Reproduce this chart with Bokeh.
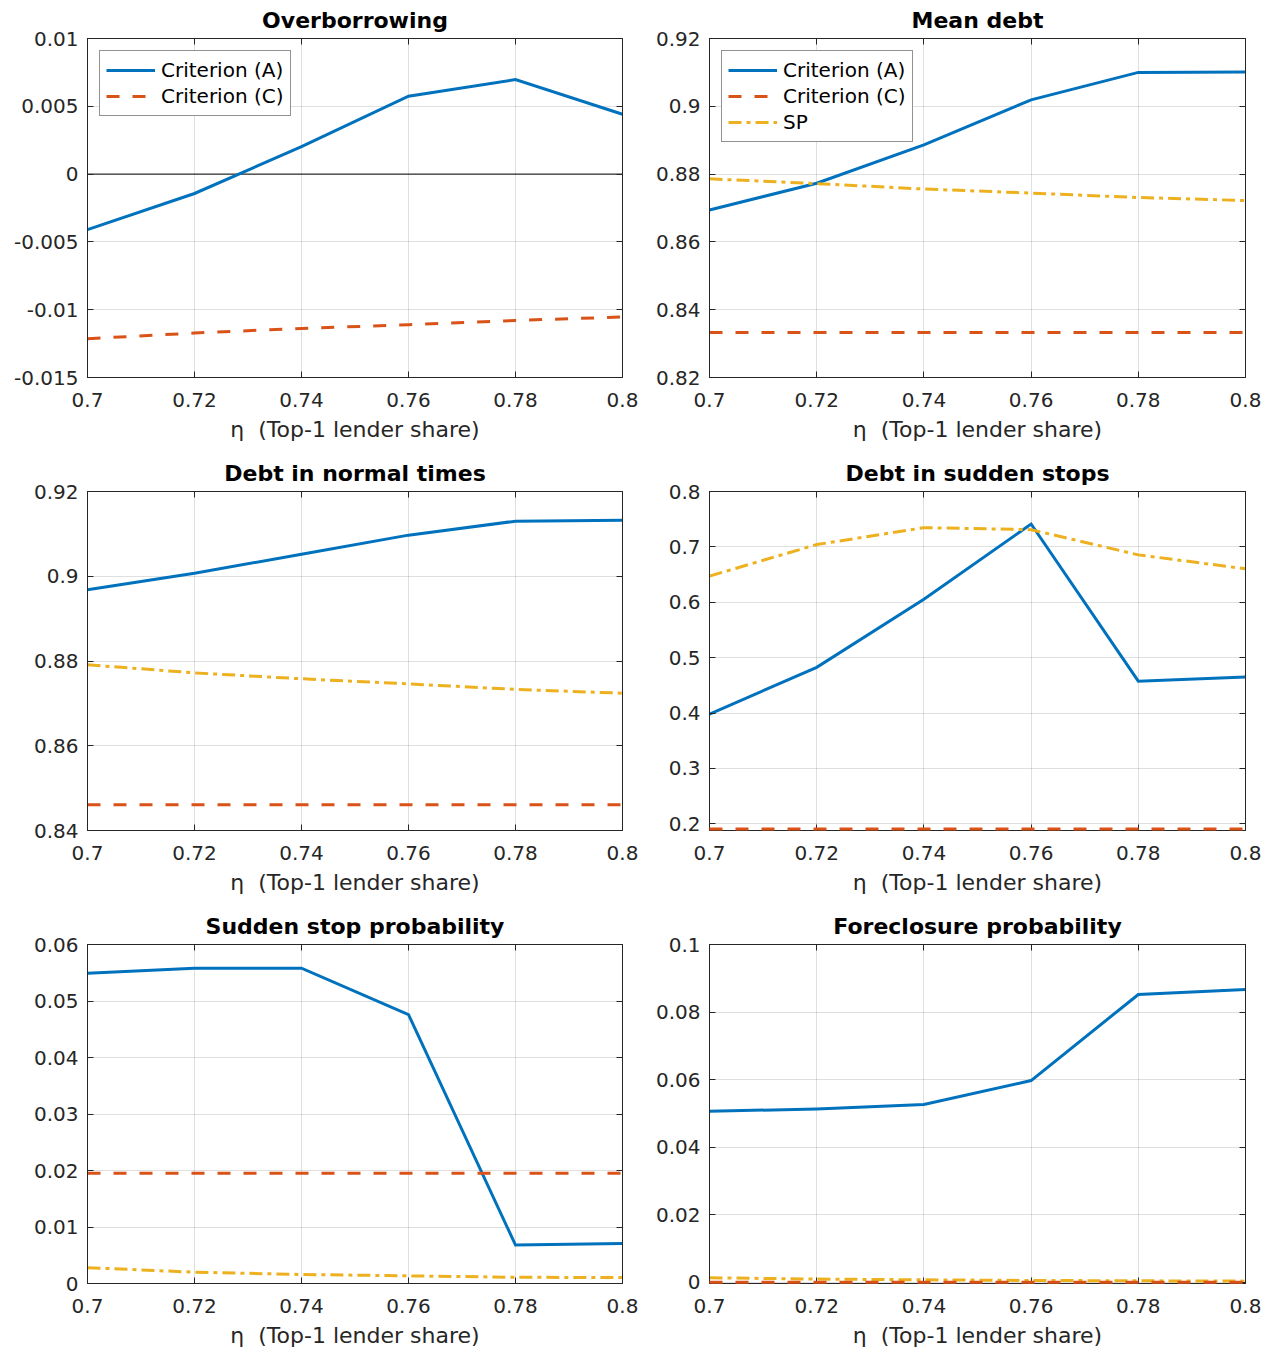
from bokeh.plotting import figure
from bokeh.layouts import column, row
from bokeh.models import FixedTicker, CustomJSTickFormatter, LinearAxis, Span, Range1d
from bokeh.embed import file_html
from bokeh.resources import INLINE

# ---------------- data ----------------
eta = [0.70, 0.72, 0.74, 0.76, 0.78, 0.80]
x_ticks = [0.7, 0.72, 0.74, 0.76, 0.78, 0.8]
x_tick_labels = ["0.7", "0.72", "0.74", "0.76", "0.78", "0.8"]

# Overborrowing
ob_A = [-0.0041, -0.00143, 0.00202, 0.00574, 0.00697, 0.00441]
ob_C = [-0.01214, -0.01172, -0.01138, -0.01111, -0.01079, -0.01054]
ob_ticks = [-0.015, -0.01, -0.005, 0, 0.005, 0.01]
ob_labels = ["-0.015", "-0.01", "-0.005", "0", "0.005", "0.01"]

# Mean debt
md_A = [0.8694, 0.8773, 0.8886, 0.9019, 0.9100, 0.9101]
md_C = [0.8333, 0.8333, 0.8333, 0.8333, 0.8333, 0.8333]
md_SP = [0.8786, 0.8772, 0.8756, 0.8744, 0.8731, 0.8722]
md_ticks = [0.82, 0.84, 0.86, 0.88, 0.9, 0.92]
md_labels = ["0.82", "0.84", "0.86", "0.88", "0.9", "0.92"]

# Debt in normal times
nt_A = [0.8968, 0.9007, 0.9052, 0.9097, 0.9130, 0.9132]
nt_C = [0.8461, 0.8461, 0.8461, 0.8461, 0.8461, 0.8461]
nt_SP = [0.8791, 0.8772, 0.8758, 0.8746, 0.8733, 0.8724]
nt_ticks = [0.84, 0.86, 0.88, 0.9, 0.92]
nt_labels = ["0.84", "0.86", "0.88", "0.9", "0.92"]

# Debt in sudden stops
ss_A = [0.3982, 0.4826, 0.6054, 0.7413, 0.4575, 0.4653]
ss_C = [0.1905, 0.1905, 0.1905, 0.1905, 0.1905, 0.1905]
ss_SP = [0.6473, 0.7042, 0.7347, 0.7311, 0.6856, 0.6605]
ss_ticks = [0.2, 0.3, 0.4, 0.5, 0.6, 0.7, 0.8]
ss_labels = ["0.2", "0.3", "0.4", "0.5", "0.6", "0.7", "0.8"]

# Sudden stop probability
sp_A = [0.0549, 0.0558, 0.0558, 0.0476, 0.0068, 0.0071]
sp_C = [0.0195, 0.0195, 0.0195, 0.0195, 0.0195, 0.0195]
sp_SP = [0.0028, 0.0020, 0.0016, 0.00135, 0.0011, 0.00105]
sp_ticks = [0, 0.01, 0.02, 0.03, 0.04, 0.05, 0.06]
sp_labels = ["0", "0.01", "0.02", "0.03", "0.04", "0.05", "0.06"]

# Foreclosure probability
fp_A = [0.0506, 0.0513, 0.0526, 0.0597, 0.0852, 0.0867]
fp_C = [0.0, 0.0, 0.0, 0.0, 0.0, 0.0]
fp_SP = [0.0013, 0.0009, 0.0007, 0.0005, 0.0004, 0.0003]
fp_ticks = [0, 0.02, 0.04, 0.06, 0.08, 0.1]
fp_labels = ["0", "0.02", "0.04", "0.06", "0.08", "0.1"]

# ---------------- style ----------------
BLUE = "#0072BD"
RED = "#D95319"
YEL = "#EDB120"
AX = "#262626"
FONT = "DejaVu Sans"
XLABEL = "\u03b7\u00a0\u00a0(Top-1 lender share)"


def fmt(ticks, labels):
    return CustomJSTickFormatter(args=dict(vals=ticks, labs=labels), code="""
        let best = 0, d = Infinity;
        for (let i = 0; i < vals.length; i++) {
            const e = Math.abs(vals[i] - tick);
            if (e < d) { d = e; best = i; }
        }
        return labs[best];
    """)


def style_axis(ax, ticker, formatter, standoff):
    ax.ticker = ticker
    ax.formatter = formatter
    ax.major_tick_in = 6
    ax.major_tick_out = 0
    ax.minor_tick_in = 0
    ax.minor_tick_out = 0
    ax.axis_line_color = AX
    ax.major_tick_line_color = AX
    ax.major_label_text_font = FONT
    ax.major_label_text_font_size = "20px"
    ax.major_label_text_color = AX
    ax.major_label_standoff = standoff


def make(title, yr, yticks, ylabels, series, legend, col, last_row, overlay_c=False):
    left = col == 0
    p = figure(frame_width=535 if left else 536, frame_height=339,
               output_backend="svg", toolbar_location=None,
               x_range=Range1d(0.7, 0.8), y_range=Range1d(*yr),
               min_border_left=87 if left else 59,
               min_border_right=28 if left else 22,
               min_border_top=38,
               min_border_bottom=70 if last_row else 76)
    p.title.text = title
    p.title.align = "center"
    p.title.text_font = FONT
    p.title.text_font_size = "22px"
    p.title.text_font_style = "bold"
    p.title.text_color = "#000000"
    p.title.standoff = 11

    xt = FixedTicker(ticks=x_ticks)
    yt = FixedTicker(ticks=yticks)
    style_axis(p.xaxis[0], xt, fmt(x_ticks, x_tick_labels), 15)
    style_axis(p.yaxis[0], yt, fmt(yticks, ylabels), 9)
    p.xaxis.axis_label = XLABEL
    p.xaxis.axis_label_text_font = FONT
    p.xaxis.axis_label_text_font_size = "22px"
    p.xaxis.axis_label_text_font_style = "normal"
    p.xaxis.axis_label_text_color = AX
    p.xaxis.axis_label_standoff = 7

    # opposite-side inner ticks (box on)
    blank = CustomJSTickFormatter(code="return ''")
    ra = LinearAxis()
    style_axis(ra, yt, blank, 0)
    ra.major_label_text_font_size = "0px"
    p.add_layout(ra, "right")
    ta = LinearAxis()
    style_axis(ta, xt, blank, 0)
    ta.major_label_text_font_size = "0px"
    p.add_layout(ta, "above")

    p.outline_line_color = AX
    p.outline_line_alpha = 1
    p.grid.grid_line_color = AX
    p.grid.grid_line_alpha = 0.15
    p.grid.grid_line_width = 1
    p.background_fill_color = "white"

    for name, ys, color, dash in series:
        kw = dict(line_color=color, line_width=3, line_dash=dash, line_join="miter")
        if legend:
            kw["legend_label"] = name
        r = p.line(eta, ys, **kw)
        if overlay_c and color == RED:
            r.level = "overlay"

    if legend:
        lg = p.legend[0]
        lg.location = "top_left"
        lg.margin = 12
        lg.padding = 6
        lg.spacing = 0
        lg.label_height = 26
        lg.glyph_height = 26
        lg.glyph_width = 49
        lg.label_standoff = 6
        lg.label_text_font = FONT
        lg.label_text_font_size = "20px"
        lg.label_text_color = "#000000"
        lg.border_line_color = AX
        lg.border_line_width = 1
        lg.background_fill_alpha = 1
    return p


SOLID = "solid"
DASH = "13 13"
DASHDOT = "13 5 4 5"

p1 = make("Overborrowing", (-0.015, 0.01), ob_ticks, ob_labels,
          [("Criterion (A)", ob_A, BLUE, SOLID), ("Criterion (C)", ob_C, RED, DASH)],
          True, 0, False)
zero = Span(location=0, dimension="width", line_color="#000000", line_width=1, level="underlay")
p1.add_layout(zero)

p2 = make("Mean debt", (0.82, 0.92), md_ticks, md_labels,
          [("Criterion (A)", md_A, BLUE, SOLID), ("Criterion (C)", md_C, RED, DASH),
           ("SP", md_SP, YEL, DASHDOT)],
          True, 1, False)

p3 = make("Debt in normal times", (0.84, 0.92), nt_ticks, nt_labels,
          [("Criterion (A)", nt_A, BLUE, SOLID), ("Criterion (C)", nt_C, RED, DASH),
           ("SP", nt_SP, YEL, DASHDOT)],
          False, 0, False)

p4 = make("Debt in sudden stops", (0.1880, 0.8), ss_ticks, ss_labels,
          [("Criterion (A)", ss_A, BLUE, SOLID), ("Criterion (C)", ss_C, RED, DASH),
           ("SP", ss_SP, YEL, DASHDOT)],
          False, 1, False, overlay_c=True)

p5 = make("Sudden stop probability", (0, 0.06), sp_ticks, sp_labels,
          [("Criterion (A)", sp_A, BLUE, SOLID), ("Criterion (C)", sp_C, RED, DASH),
           ("SP", sp_SP, YEL, DASHDOT)],
          False, 0, True)

p6 = make("Foreclosure probability", (-0.0004, 0.1), fp_ticks, fp_labels,
          [("Criterion (A)", fp_A, BLUE, SOLID), ("Criterion (C)", fp_C, RED, DASH),
           ("SP", fp_SP, YEL, DASHDOT)],
          False, 1, True, overlay_c=True)

layout = column(row(p1, p2), row(p3, p4), row(p5, p6))

open("out.html", "w").write(file_html(layout, INLINE))
